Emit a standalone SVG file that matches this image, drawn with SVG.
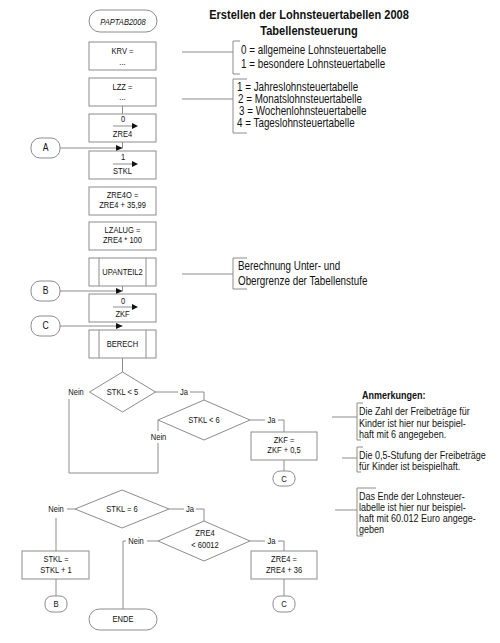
<svg xmlns="http://www.w3.org/2000/svg" width="500" height="643" viewBox="0 0 500 643">
<defs>
<style>
.f{font-family:"Liberation Sans",Arial,sans-serif;fill:#111}
.b{font-size:9.2px;text-anchor:middle}
.n{font-size:11px}
.m{font-size:12px}
.s{fill:#fff;stroke:#8c8c8c;stroke-width:1}
.l{fill:none;stroke:#8c8c8c;stroke-width:1}
.ah{fill:#111;stroke:none}
</style>
</defs>
<rect width="500" height="643" fill="#fff"/>

<g id="title" class="f" font-weight="bold" text-anchor="middle" font-size="13.5">
<text transform="translate(309 0) scale(0.82 1)" x="0" y="19">Erstellen der Lohnsteuertabellen 2008</text>
<text transform="translate(309 0) scale(0.82 1)" x="0" y="35">Tabellensteuerung</text>
</g>

<g id="connectors" class="l">
<line x1="122.5" y1="106" x2="122.5" y2="114"/>
<line x1="60" y1="148" x2="122.5" y2="148"/>
<line x1="122.5" y1="142" x2="122.5" y2="148"/>
<line x1="60" y1="291" x2="122.5" y2="291"/>
<line x1="122.5" y1="286" x2="122.5" y2="291"/>
<line x1="60" y1="326" x2="122.5" y2="326"/>
<line x1="122.5" y1="358" x2="122.5" y2="372"/>
<polyline points="155,392 178,392"/>
<polyline points="190,392 204,392 204,400"/>
<polyline points="69,399 69,473 158,473 158,443"/>
<line x1="158" y1="420" x2="158" y2="431"/>
<polyline points="250,420 265,420"/>
<polyline points="278,420 284,420 284,432"/>
<line x1="284" y1="460" x2="284" y2="471"/>
<line x1="67" y1="509" x2="75" y2="509"/>
<line x1="56" y1="518" x2="56" y2="551"/>
<line x1="56" y1="579" x2="56" y2="596"/>
<polyline points="169,509 184,509"/>
<polyline points="196,509 204,509 204,521"/>
<line x1="147" y1="541" x2="158" y2="541"/>
<polyline points="126,541 123,541 123,609"/>
<polyline points="250,541 265,541"/>
<polyline points="278,541 284,541 284,551"/>
<line x1="284" y1="579" x2="284" y2="596"/>
<line x1="182" y1="52" x2="233" y2="52"/>
<line x1="182" y1="99" x2="233" y2="99"/>
<line x1="182" y1="274" x2="233" y2="274"/>
<line x1="332" y1="417" x2="357" y2="417"/>
<line x1="342" y1="458" x2="357" y2="458"/>
<line x1="335" y1="510" x2="357" y2="510"/>
<polygon class="ah" points="122.5,148 116,145 116,151"/>
<polygon class="ah" points="122.5,291 116,288 116,294"/>
<polygon class="ah" points="122.5,326 116,323 116,329"/>
</g>

<g id="labels" class="f" font-size="9.2" text-anchor="middle">
<text transform="translate(184 0) scale(0.82 1)" y="395">Ja</text>
<text transform="translate(271.5 0) scale(0.82 1)" y="423.5">Ja</text>
<text transform="translate(190 0) scale(0.82 1)" y="512">Ja</text>
<text transform="translate(271.5 0) scale(0.82 1)" y="544.5">Ja</text>
<text transform="translate(76 0) scale(0.82 1)" y="395.5">Nein</text>
<text transform="translate(158.5 0) scale(0.82 1)" y="440.5">Nein</text>
<text transform="translate(56 0) scale(0.82 1)" y="512.5">Nein</text>
<text transform="translate(136 0) scale(0.82 1)" y="544.5">Nein</text>
</g>

<g id="start">
<rect class="s" x="89" y="10" width="68" height="22" rx="11"/>
<text class="f b" transform="translate(123 0) scale(0.82 1)" y="25" font-style="italic">PAPTAB2008</text>
</g>
<g id="krv">
<rect class="s" x="89" y="42" width="67" height="28"/>
<text class="f b" transform="translate(122.5 0) scale(0.82 1)" y="54.5">KRV =</text>
<text class="f b" transform="translate(122.5 0) scale(0.82 1)" y="65">...</text>
</g>
<g id="lzz">
<rect class="s" x="89" y="78" width="67" height="28"/>
<text class="f b" transform="translate(122.5 0) scale(0.82 1)" y="90.5">LZZ =</text>
<text class="f b" transform="translate(122.5 0) scale(0.82 1)" y="100.5">...</text>
</g>
<g id="zre4">
<rect class="s" x="89" y="114" width="67" height="28"/>
<text class="f b" transform="translate(123 0) scale(0.82 1)" y="122.5">0</text>
<line class="l" x1="113" y1="126" x2="133" y2="126"/>
<polygon class="ah" points="138,126 132,123 132,129"/>
<text class="f b" transform="translate(122.5 0) scale(0.82 1)" y="137">ZRE4</text>
</g>
<g id="stkl">
<rect class="s" x="89" y="151" width="67" height="28"/>
<text class="f b" transform="translate(123 0) scale(0.82 1)" y="160.5">1</text>
<line class="l" x1="113" y1="164" x2="133" y2="164"/>
<polygon class="ah" points="138,164 132,161 132,167"/>
<text class="f b" transform="translate(122.5 0) scale(0.82 1)" y="174.5">STKL</text>
</g>
<g id="zre4o">
<rect class="s" x="89" y="187" width="67" height="28"/>
<text class="f b" transform="translate(122.5 0) scale(0.82 1)" y="198">ZRE4O =</text>
<text class="f b" transform="translate(122.5 0) scale(0.82 1)" y="208">ZRE4 + 35,99</text>
</g>
<g id="lzalug">
<rect class="s" x="89" y="222" width="67" height="28"/>
<text class="f b" transform="translate(122.5 0) scale(0.82 1)" y="233.5">LZALUG =</text>
<text class="f b" transform="translate(122.5 0) scale(0.82 1)" y="243.5">ZRE4 * 100</text>
</g>
<g id="upanteil2">
<rect class="s" x="89" y="258" width="67" height="28"/>
<line class="l" x1="99" y1="258" x2="99" y2="286"/>
<line class="l" x1="146" y1="258" x2="146" y2="286"/>
<text class="f b" transform="translate(122.5 0) scale(0.82 1)" y="275.5">UPANTEIL2</text>
</g>
<g id="zkf">
<rect class="s" x="89" y="294" width="67" height="28"/>
<text class="f b" transform="translate(123 0) scale(0.82 1)" y="304.5">0</text>
<line class="l" x1="113" y1="307" x2="133" y2="307"/>
<polygon class="ah" points="138,307 132,304 132,310"/>
<text class="f b" transform="translate(122.5 0) scale(0.82 1)" y="317">ZKF</text>
</g>
<g id="berech">
<rect class="s" x="89" y="330" width="67" height="28"/>
<line class="l" x1="99" y1="330" x2="99" y2="358"/>
<line class="l" x1="146" y1="330" x2="146" y2="358"/>
<text class="f b" transform="translate(122.5 0) scale(0.82 1)" y="347">BERECH</text>
</g>

<g id="conA">
<rect class="s" x="31" y="138" width="29" height="20" rx="9"/>
<text class="f" transform="translate(45.5 0) scale(0.82 1)" y="151.5" font-size="10.5" text-anchor="middle">A</text>
</g>
<g id="conB">
<rect class="s" x="31" y="281" width="29" height="20" rx="9"/>
<text class="f" transform="translate(45.5 0) scale(0.82 1)" y="294.5" font-size="10.5" text-anchor="middle">B</text>
</g>
<g id="conC">
<rect class="s" x="31" y="316" width="29" height="20" rx="9"/>
<text class="f" transform="translate(45.5 0) scale(0.82 1)" y="329.5" font-size="10.5" text-anchor="middle">C</text>
</g>

<g id="d1">
<polygon class="s" points="122.5,372 155.5,392 122.5,412 89.5,392"/>
<text class="f b" transform="translate(122.5 0) scale(0.82 1)" y="395.5">STKL &lt; 5</text>
</g>
<g id="d2">
<polygon class="s" points="204,400 250,420 204,440 158,420"/>
<text class="f b" transform="translate(204 0) scale(0.82 1)" y="423.5">STKL &lt; 6</text>
</g>
<g id="zkfadd">
<rect class="s" x="251" y="432" width="66" height="28"/>
<text class="f b" transform="translate(284 0) scale(0.82 1)" y="443">ZKF =</text>
<text class="f b" transform="translate(284 0) scale(0.82 1)" y="453.5">ZKF + 0,5</text>
</g>
<g id="conC2">
<rect class="s" x="273" y="471" width="22" height="15" rx="7"/>
<text class="f" transform="translate(284 0) scale(0.82 1)" y="482" font-size="9.5" text-anchor="middle">C</text>
</g>
<g id="d3">
<polygon class="s" points="122,490 169,509 122,528 75,509"/>
<text class="f b" transform="translate(122 0) scale(0.82 1)" y="512">STKL = 6</text>
</g>
<g id="d4">
<polygon class="s" points="204,521 250,541 204,561 158,541"/>
<text class="f b" transform="translate(205 0) scale(0.82 1)" y="536">ZRE4</text>
<text class="f b" transform="translate(205 0) scale(0.82 1)" y="548">&lt; 60012</text>
</g>
<g id="stkladd">
<rect class="s" x="22" y="551" width="67" height="28"/>
<text class="f b" transform="translate(56 0) scale(0.82 1)" y="562.5">STKL =</text>
<text class="f b" transform="translate(56 0) scale(0.82 1)" y="573">STKL + 1</text>
</g>
<g id="conB2">
<rect class="s" x="45" y="596" width="22" height="16" rx="7"/>
<text class="f" transform="translate(56 0) scale(0.82 1)" y="607.5" font-size="9.5" text-anchor="middle">B</text>
</g>
<g id="zre4add">
<rect class="s" x="251" y="551" width="66" height="28"/>
<text class="f b" transform="translate(284 0) scale(0.82 1)" y="562.5">ZRE4 =</text>
<text class="f b" transform="translate(284 0) scale(0.82 1)" y="573">ZRE4 + 36</text>
</g>
<g id="conC3">
<rect class="s" x="273" y="596" width="22" height="16" rx="7"/>
<text class="f" transform="translate(284 0) scale(0.82 1)" y="607.5" font-size="9.5" text-anchor="middle">C</text>
</g>
<g id="ende">
<rect class="s" x="89" y="609" width="68" height="21" rx="10.5"/>
<text class="f b" transform="translate(123 0) scale(0.82 1)" y="622.5">ENDE</text>
</g>

<g id="noteKRV">
<path class="l" d="M240,41 H233 V74 H240"/>
<text class="f m" transform="translate(241 0) scale(0.82 1)" y="54">0 = allgemeine Lohnsteuertabelle</text>
<text class="f m" transform="translate(241 0) scale(0.82 1)" y="68">1 = besondere Lohnsteuertabelle</text>
</g>
<g id="noteLZZ">
<path class="l" d="M247,79 H233 V133 H247"/>
<text class="f m" transform="translate(237 0) scale(0.82 1)" y="91">1 = Jahreslohnsteuertabelle</text>
<text class="f m" transform="translate(238 0) scale(0.82 1)" y="103">2 = Monatslohnsteuertabelle</text>
<text class="f m" transform="translate(239 0) scale(0.82 1)" y="115">3 = Wochenlohnsteuertabelle</text>
<text class="f m" transform="translate(237 0) scale(0.82 1)" y="127">4 = Tageslohnsteuertabelle</text>
</g>
<g id="noteUP">
<path class="l" d="M247,258 H233 V289 H247"/>
<text class="f m" transform="translate(238 0) scale(0.82 1)" y="270">Berechnung Unter- und</text>
<text class="f m" transform="translate(238 0) scale(0.82 1)" y="285">Obergrenze der Tabellenstufe</text>
</g>

<g id="anmerkungen">
<text class="f" transform="translate(362 0) scale(0.82 1)" y="399" font-size="11" font-weight="bold">Anmerkungen:</text>
</g>
<g id="note1">
<path class="l" d="M363,403 H357 V440 H361"/>
<text class="f n" transform="translate(359 0) scale(0.82 1)" y="415.5">Die Zahl der Freibeträge für</text>
<text class="f n" transform="translate(359 0) scale(0.82 1)" y="427">Kinder ist hier nur beispiel-</text>
<text class="f n" transform="translate(359 0) scale(0.82 1)" y="438.5">haft mit 6 angegeben.</text>
</g>
<g id="note2">
<path class="l" d="M363,447 H357 V472 H361"/>
<text class="f n" transform="translate(359 0) scale(0.82 1)" y="459">Die 0,5-Stufung der Freibeträge</text>
<text class="f n" transform="translate(359 0) scale(0.82 1)" y="470">für Kinder ist beispielhaft.</text>
</g>
<g id="note3">
<path class="l" d="M376,488 H357 V536 H363"/>
<text class="f n" transform="translate(359 0) scale(0.82 1)" y="500.5">Das Ende der Lohnsteuer-</text>
<text class="f n" transform="translate(359 0) scale(0.82 1)" y="511.5">labelle ist hier nur beispiel-</text>
<text class="f n" transform="translate(359 0) scale(0.82 1)" y="522.5">haft mit 60.012 Euro angege-</text>
<text class="f n" transform="translate(359 0) scale(0.82 1)" y="533.5">geben</text>
</g>
</svg>
